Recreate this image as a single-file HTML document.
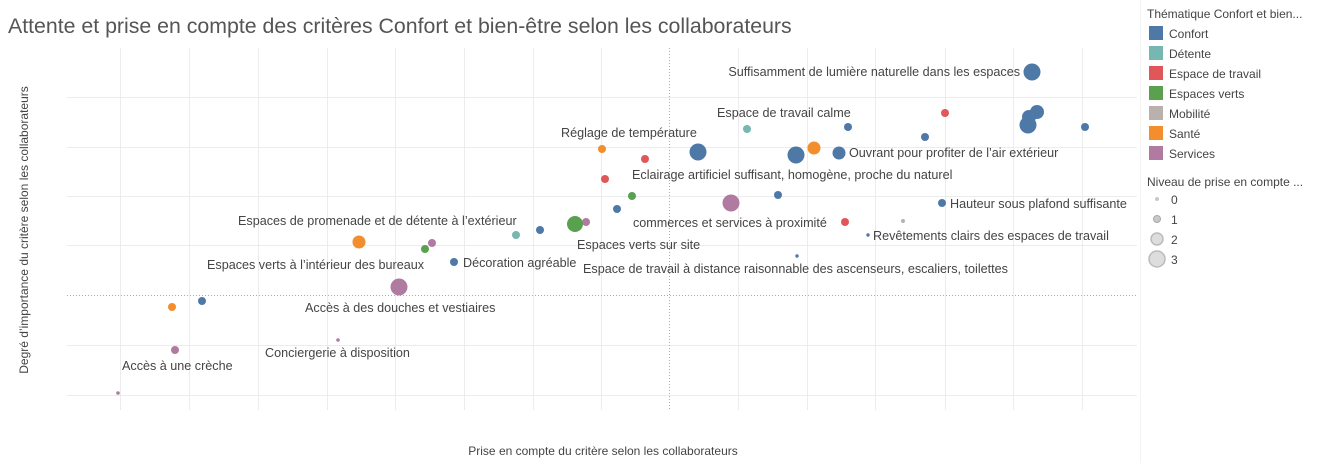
<!DOCTYPE html>
<html><head><meta charset="utf-8"><style>
body{margin:0;background:#fff;}
svg{display:block;font-family:"Liberation Sans",sans-serif;}
.l{font-size:12.6px;fill:#444;}
</style></head><body>
<svg width="1319" height="463" xmlns="http://www.w3.org/2000/svg">
<text x="8" y="33" font-size="21.3" fill="#555">Attente et prise en compte des critères Confort et bien-être selon les collaborateurs</text>
<g stroke="#ececec" stroke-width="1">
<line x1="120.5" y1="48" x2="120.5" y2="410"/><line x1="189.5" y1="48" x2="189.5" y2="410"/><line x1="258.5" y1="48" x2="258.5" y2="410"/><line x1="327.5" y1="48" x2="327.5" y2="410"/><line x1="395.5" y1="48" x2="395.5" y2="410"/><line x1="464.5" y1="48" x2="464.5" y2="410"/><line x1="533.5" y1="48" x2="533.5" y2="410"/><line x1="601.5" y1="48" x2="601.5" y2="410"/><line x1="738.5" y1="48" x2="738.5" y2="410"/><line x1="807.5" y1="48" x2="807.5" y2="410"/><line x1="875.5" y1="48" x2="875.5" y2="410"/><line x1="945.5" y1="48" x2="945.5" y2="410"/><line x1="1013.5" y1="48" x2="1013.5" y2="410"/><line x1="1082.5" y1="48" x2="1082.5" y2="410"/>
<line x1="67" y1="97.5" x2="1137" y2="97.5"/><line x1="67" y1="147.5" x2="1137" y2="147.5"/><line x1="67" y1="196.5" x2="1137" y2="196.5"/><line x1="67" y1="245.5" x2="1137" y2="245.5"/><line x1="67" y1="345.5" x2="1137" y2="345.5"/><line x1="67" y1="395.5" x2="1137" y2="395.5"/>
</g>
<g stroke="#aaa" stroke-dasharray="1,2"><line x1="669.5" y1="48" x2="669.5" y2="410"/><line x1="67" y1="295.5" x2="1137" y2="295.5"/></g>
<g>
<circle cx="1032" cy="72" r="8.5" fill="#4e79a7"/>
<circle cx="1037" cy="112" r="7" fill="#4e79a7"/><circle cx="1029" cy="117" r="7" fill="#4e79a7"/><circle cx="1028" cy="125" r="8.5" fill="#4e79a7"/>
<circle cx="1085" cy="127" r="4" fill="#4e79a7"/>
<circle cx="945" cy="113" r="4" fill="#e15759"/>
<circle cx="925" cy="137" r="4" fill="#4e79a7"/>
<circle cx="848" cy="127" r="4" fill="#4e79a7"/>
<circle cx="747" cy="129" r="4" fill="#76b7b2"/>
<circle cx="698" cy="152" r="8.5" fill="#4e79a7"/>
<circle cx="796" cy="155" r="8.5" fill="#4e79a7"/>
<circle cx="814" cy="148" r="6.5" fill="#f28e2b"/>
<circle cx="839" cy="153" r="6.5" fill="#4e79a7"/>
<circle cx="645" cy="159" r="4" fill="#e15759"/>
<circle cx="602" cy="149" r="4" fill="#f28e2b"/>
<circle cx="605" cy="179" r="4" fill="#e15759"/>
<circle cx="632" cy="196" r="4" fill="#59a14f"/>
<circle cx="617" cy="209" r="4" fill="#4e79a7"/>
<circle cx="778" cy="195" r="4" fill="#4e79a7"/>
<circle cx="731" cy="203" r="8.5" fill="#b07aa1"/>
<circle cx="942" cy="203" r="4" fill="#4e79a7"/>
<circle cx="845" cy="222" r="4" fill="#e15759"/>
<circle cx="903" cy="221" r="2" fill="#bab0ac"/>
<circle cx="868" cy="235" r="1.7" fill="#4e79a7"/>
<circle cx="797" cy="256" r="1.7" fill="#4e79a7"/>
<circle cx="586" cy="222" r="4" fill="#b07aa1"/>
<circle cx="575" cy="224" r="8" fill="#59a14f"/>
<circle cx="540" cy="230" r="4" fill="#4e79a7"/>
<circle cx="516" cy="235" r="4" fill="#76b7b2"/>
<circle cx="359" cy="242" r="6.5" fill="#f28e2b"/>
<circle cx="432" cy="243" r="4" fill="#b07aa1"/>
<circle cx="425" cy="249" r="4" fill="#59a14f"/>
<circle cx="454" cy="262" r="4" fill="#4e79a7"/>
<circle cx="399" cy="287" r="8.5" fill="#b07aa1"/>
<circle cx="202" cy="301" r="4" fill="#4e79a7"/>
<circle cx="172" cy="307" r="4" fill="#f28e2b"/>
<circle cx="175" cy="350" r="4" fill="#b07aa1"/>
<circle cx="338" cy="340" r="1.8" fill="#b07aa1"/>
<circle cx="118" cy="393" r="1.8" fill="#b07aa1"/>
</g>
<g>
<text x="1020" y="76" text-anchor="end" class="l">Suffisamment de lumière naturelle dans les espaces</text>
<text x="717" y="117" class="l">Espace de travail calme</text>
<text x="561" y="137" class="l">Réglage de température</text>
<text x="849" y="157" class="l">Ouvrant pour profiter de l’air extérieur</text>
<text x="632" y="179" class="l">Eclairage artificiel suffisant, homogène, proche du naturel</text>
<text x="950" y="208" class="l">Hauteur sous plafond suffisante</text>
<text x="238" y="225" class="l">Espaces de promenade et de détente à l’extérieur</text>
<text x="633" y="227" class="l">commerces et services à proximité</text>
<text x="873" y="240" class="l">Revêtements clairs des espaces de travail</text>
<text x="577" y="249" class="l">Espaces verts sur site</text>
<text x="207" y="269" class="l">Espaces verts à l’intérieur des bureaux</text>
<text x="463" y="267" class="l">Décoration agréable</text>
<text x="583" y="273" class="l">Espace de travail à distance raisonnable des ascenseurs, escaliers, toilettes</text>
<text x="305" y="312" class="l">Accès à des douches et vestiaires</text>
<text x="265" y="357" class="l">Conciergerie à disposition</text>
<text x="122" y="370" class="l">Accès à une crèche</text>
</g>
<text x="603" y="455" text-anchor="middle" font-size="12" fill="#444">Prise en compte du critère selon les collaborateurs</text>
<text transform="translate(28,230) rotate(-90)" text-anchor="middle" font-size="12" fill="#444">Degré d’importance du critère selon les collaborateurs</text>
<line x1="1140.5" y1="0" x2="1140.5" y2="463" stroke="#f4f4f4"/>
<g font-size="12" fill="#444">
<text x="1147" y="18">Thématique Confort et bien...</text>
<rect x="1149" y="26" width="14" height="14" fill="#4e79a7"/><text x="1169" y="38">Confort</text>
<rect x="1149" y="46" width="14" height="14" fill="#76b7b2"/><text x="1169" y="58">Détente</text>
<rect x="1149" y="66" width="14" height="14" fill="#e15759"/><text x="1169" y="78">Espace de travail</text>
<rect x="1149" y="86" width="14" height="14" fill="#59a14f"/><text x="1169" y="98">Espaces verts</text>
<rect x="1149" y="106" width="14" height="14" fill="#bab0ac"/><text x="1169" y="118">Mobilité</text>
<rect x="1149" y="126" width="14" height="14" fill="#f28e2b"/><text x="1169" y="138">Santé</text>
<rect x="1149" y="146" width="14" height="14" fill="#b07aa1"/><text x="1169" y="158">Services</text>
<text x="1147" y="186">Niveau de prise en compte ...</text>
<circle cx="1157" cy="199" r="2" fill="#c8c8c8"/><text x="1171" y="204">0</text>
<circle cx="1157" cy="219" r="3.5" fill="#c8c8c8" stroke="#aaa"/><text x="1171" y="224">1</text>
<circle cx="1157" cy="239" r="6" fill="#ddd" stroke="#bbb" stroke-width="1.5"/><text x="1171" y="244">2</text>
<circle cx="1157" cy="259" r="8" fill="#ddd" stroke="#bbb" stroke-width="1.5"/><text x="1171" y="264">3</text>
</g>
</svg>
</body></html>
